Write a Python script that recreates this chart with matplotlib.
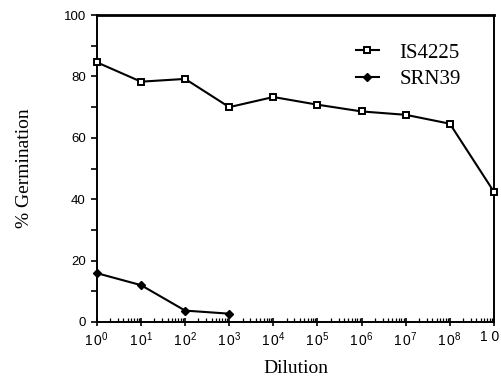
import matplotlib
matplotlib.use("Agg")
import matplotlib.pyplot as plt
from matplotlib.ticker import LogLocator, NullFormatter, FixedLocator
from matplotlib.transforms import ScaledTranslation

# data
dilution_is = [1e0, 1e1, 1e2, 1e3, 1e4, 1e5, 1e6, 1e7, 1e8, 1e9]
germ_is4225 = [84.6, 78.3, 79.2, 70.0, 73.3, 70.8, 68.6, 67.5, 64.6, 42.4]
dilution_srn = [1e0, 1e1, 1e2, 1e3]
germ_srn39 = [15.9, 12.0, 3.7, 2.7]
xtick_vals = [10.0 ** k for k in range(10)]
xtick_labels = [r"$\mathregular{1\,0^{%d}}$" % k for k in range(9)] + ["1 0"]
ytick_vals = [0, 20, 40, 60, 80, 100]

serif = "Liberation Serif"
sans = "Liberation Sans"

fig = plt.figure(figsize=(5.02, 3.77), dpi=100)
ax = fig.add_axes([0.193, 0.146, 0.791, 0.814])

ax.plot(dilution_is, germ_is4225, color="black", lw=1.5, marker="s", ms=4.5,
        mfc="white", mec="black", mew=1.4, label="IS4225", clip_on=False, zorder=3)
ax.plot(dilution_srn, germ_srn39, color="black", lw=1.5, marker="D", ms=4.2,
        mfc="black", mec="black", label="SRN39", clip_on=False, zorder=3)

ax.set_xscale("log")
ax.set_xlim(1e0, 1e9)
ax.set_ylim(0, 100)

ax.xaxis.set_major_locator(FixedLocator(xtick_vals))
ax.set_xticklabels(xtick_labels, fontfamily=sans, fontsize=10)
ax.xaxis.set_minor_locator(LogLocator(base=10, subs=range(2, 10), numticks=100))
ax.xaxis.set_minor_formatter(NullFormatter())
ax.tick_params(axis="x", which="major", direction="inout", length=6, width=1.2, pad=3)
ax.tick_params(axis="x", which="minor", direction="in", length=3, width=0.9)

# last label is cut by the page edge in the original; nudge it to sit at the edge
last = ax.get_xticklabels()[-1]
last.set_transform(last.get_transform() + ScaledTranslation(-3 / 72, 0, fig.dpi_scale_trans))

ax.set_yticks(ytick_vals)
ax.set_yticklabels([str(v) for v in ytick_vals], fontfamily=sans, fontsize=9.5)
ax.set_yticks(range(10, 100, 20), minor=True)
ax.tick_params(axis="y", which="both", direction="out", length=4, width=1.2, pad=4)

for side in ["left", "bottom", "right"]:
    ax.spines[side].set_linewidth(1.4)
ax.spines["top"].set_linewidth(2.0)

ax.set_xlabel("Dilution", fontfamily=serif, fontsize=14, labelpad=8)
ax.set_ylabel("% Germination", fontfamily=serif, fontsize=14, labelpad=22)

leg = ax.legend(loc="upper left", bbox_to_anchor=(0.605, 0.97), frameon=False,
                handlelength=1.1, handletextpad=1.0, labelspacing=0.35,
                prop={"family": serif, "size": 15})

fig.savefig("out.png", dpi=100)
